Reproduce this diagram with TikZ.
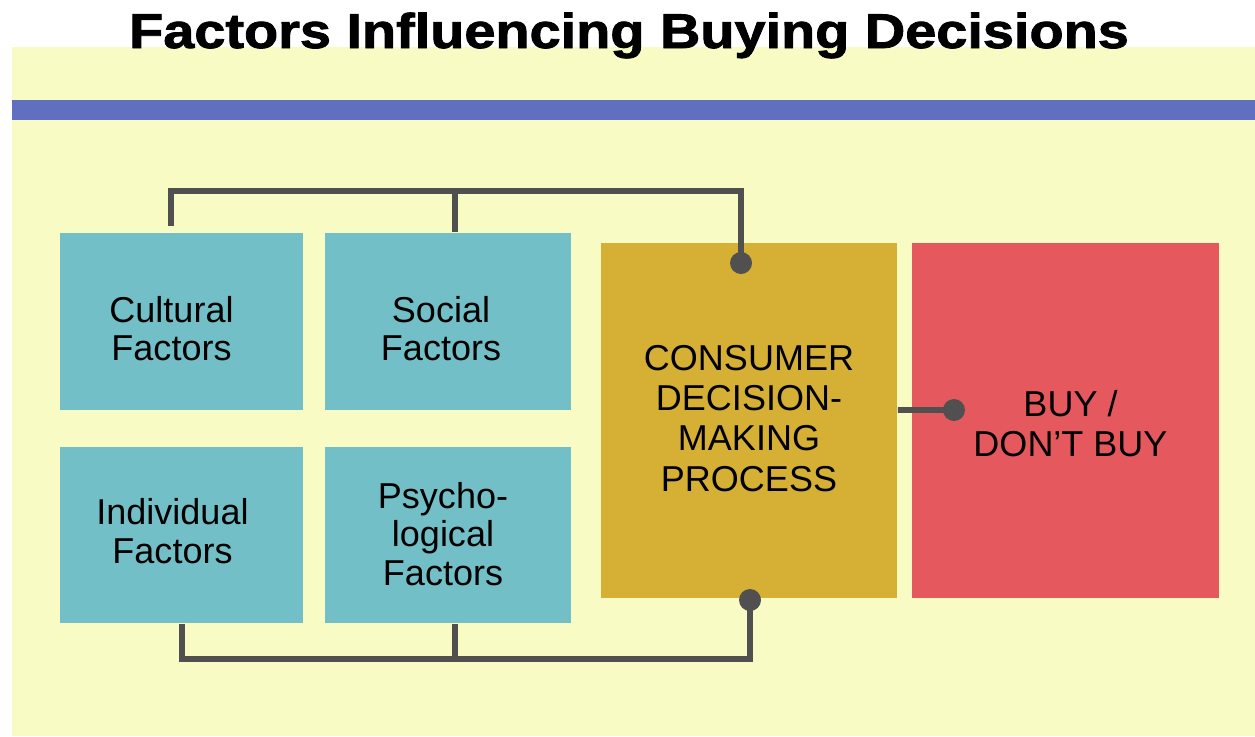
\documentclass[tikz,border=0pt]{standalone}
\usepackage{fontspec}
\setmainfont{Liberation Sans}
\newfontfamily\headfont[FakeBold=1.6]{Liberation Sans Bold}
\usepackage{graphicx}
\usepackage{tikz}
\usetikzlibrary{calc, positioning}
\definecolor{xpad}{HTML}{F8FCC4}
\definecolor{xband}{HTML}{606FC0}
\definecolor{xteal}{HTML}{73BFC7}
\definecolor{xgold}{HTML}{D5B034}
\definecolor{xred}{HTML}{E5585E}
\definecolor{xlink}{HTML}{505050}
\tikzset{
	box/.style = {fill=#1, inner sep=0pt},
	caption/.style = {text=black, align=center, inner sep=0pt,
		font=\fontsize{10.24}{10.9}\selectfont},
	link/.style = {xlink, line width=1.7pt},
	dot/.style = {circle, fill=xlink, inner sep=0pt, minimum size=0.22cm},
}

\begin{document}
\begin{tikzpicture}[x=0.01cm, y=-0.01cm]
			\useasboundingbox (0,0) rectangle (1255,736);
			\fill[white] (0,0) rectangle (1255,736);
			\fill[xpad] (12,47) rectangle (1255,736);
			\fill[xband] (12,100) rectangle (1255,120);
			\node[anchor=base, inner sep=0pt, font=\fontsize{13.9}{16}\headfont] (title) at (629,48)
				{\scalebox{1.143}[1]{Factors Influencing Buying Decisions}};
			\node[box=xteal, minimum width=2.43cm, minimum height=1.77cm] (cultural) at (181.5,321.5) {};
			\node[box=xteal, minimum width=2.46cm, minimum height=1.77cm] (social) at (448,321.5) {};
			\node[box=xteal, minimum width=2.43cm, minimum height=1.76cm] (individual) at (181.5,535) {};
			\node[box=xteal, minimum width=2.46cm, minimum height=1.76cm] (psycho) at (448,535) {};
			\node[box=xgold, minimum width=2.96cm, minimum height=3.55cm] (process) at (749,420.5) {};
			\node[box=xred, minimum width=3.07cm, minimum height=3.55cm] (outcome) at (1065.5,420.5) {};
			\node[caption] (cultural-txt) at ($(cultural)+(-10,7)$) {Cultural\\Factors};
			\node[caption] (social-txt) at ($(social)+(-7,7)$) {Social\\Factors};
			\node[caption] (individual-txt) at ($(individual)+(-9,-4)$) {Individual\\Factors};
			\node[caption] (psycho-txt) at ($(psycho)+(-5,-1)$) {Psycho-\\logical\\Factors};
			\node[caption, font=\fontsize{10.24}{11.4}\selectfont] (process-txt) at ($(process)+(0,-2)$) {CONSUMER\\DECISION-\\MAKING\\PROCESS};
			\node[caption, font=\fontsize{10.24}{11.4}\selectfont] (outcome-txt) at ($(outcome)+(5,3)$) {BUY /\\DON’T BUY};
			\node[dot] (topdot) at (741,263) {};
			\node[dot] (botdot) at (750,600) {};
			\node[dot] (outdot) at (954,410) {};
			\draw[link] ([xshift=-1.05mm, yshift=0.6mm]cultural.north) -- ++(0,-35) -| (topdot.center);
			\draw[link] ([xshift=0.7mm]social.north) -- ++(0,-41);
			\draw[link] ([xshift=0.05mm]individual.south) -- ++(0,35) -| (botdot.center);
			\draw[link] ([xshift=0.7mm]psycho.south) -- ++(0,35);
			\draw[link] ([yshift=1.05mm]process.east) -- (outdot.center);
		\end{tikzpicture}
\end{document}
